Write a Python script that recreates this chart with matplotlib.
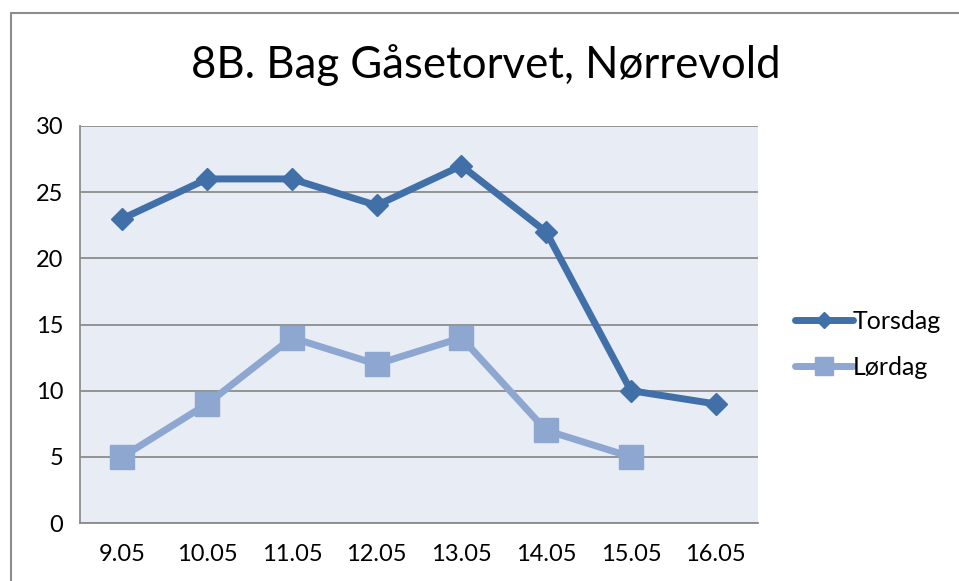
import matplotlib.pyplot as plt
from matplotlib.lines import Line2D

dates = ["9.05", "10.05", "11.05", "12.05", "13.05", "14.05", "15.05", "16.05"]
torsdag = [23, 26, 26, 24, 27, 22, 10, 9]
lordag = [5, 9, 14, 12, 14, 7, 5]

plt.rcParams["font.family"] = ["Lato", "DejaVu Sans"]

fig = plt.figure(figsize=(9.59, 5.81), dpi=100)
ax = fig.add_axes([80 / 959, 1 - 523 / 581, 678 / 959, 397 / 581])

# outer chart frame (only top and left edges are visible)
fig.add_artist(Line2D([11 / 959, 11 / 959, 1.01], [-0.01, 1 - 13 / 581, 1 - 13 / 581],
                      transform=fig.transFigure, color="#8c8c8c", lw=1.5))

ax.set_facecolor("#e8ecf5")
x = list(range(len(dates)))
ax.plot(x, torsdag, color="#4170a8", lw=5, marker="D", markersize=11.5,
        label="Torsdag", solid_joinstyle="round", solid_capstyle="round")
ax.plot(x[:len(lordag)], lordag, color="#8ea7d0", lw=5, marker="s", markersize=17,
        label="Lørdag", solid_joinstyle="round", solid_capstyle="round")

ax.set_xlim(-0.5, 7.5)
ax.set_ylim(0, 30)
ax.set_yticks(range(0, 31, 5))
ax.set_xticks(x)
ax.set_xticklabels(dates)
ax.yaxis.grid(True, color="#8c8c8c", lw=1.3)
ax.set_axisbelow(True)
ax.tick_params(length=0, labelsize=17, pad=12)
ax.tick_params(axis="x", pad=15)
for s in ["top", "right"]:
    ax.spines[s].set_visible(False)
for s in ["left", "bottom"]:
    ax.spines[s].set_color("#8c8c8c")
    ax.spines[s].set_linewidth(1.3)

fig.text(0.507, 1 - 65 / 581, "8B. Bag Gåsetorvet, Nørrevold", ha="center", va="center",
         fontsize=31.5)

leg = ax.legend(loc="center left", bbox_to_anchor=(1.022, 0.45), frameon=False,
                fontsize=18, handlelength=2.3, handletextpad=0.0, labelspacing=0.9,
                markerscale=0.75)

fig.savefig("out.png", dpi=100)
